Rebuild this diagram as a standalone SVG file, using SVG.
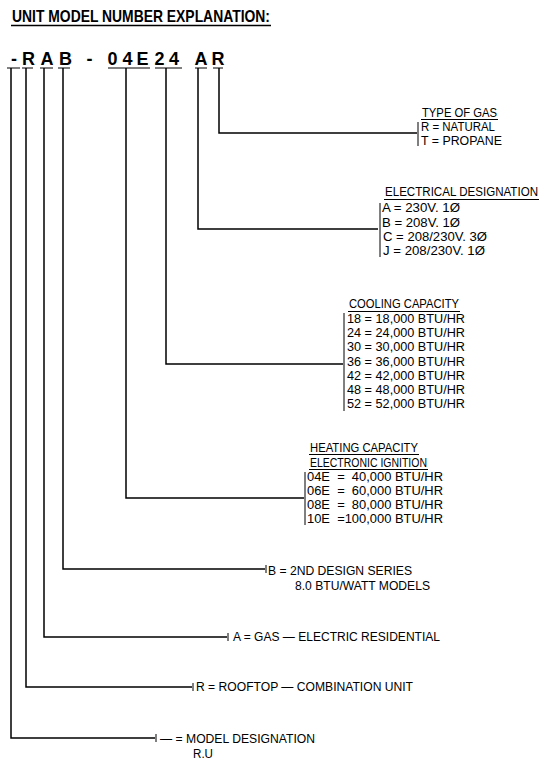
<svg xmlns="http://www.w3.org/2000/svg" width="544" height="768" viewBox="0 0 544 768">
<style>
.t{font-family:"Liberation Sans",Arial,sans-serif;font-size:12px;fill:#000}
.b{font-family:"Liberation Sans",Arial,sans-serif;font-weight:bold;fill:#000}
.c{font-family:"Liberation Sans",Arial,sans-serif;font-weight:bold;font-size:18px;fill:#000;text-anchor:middle}
.ln{stroke:#000;stroke-width:1.5;fill:none}
.thin{stroke:#000;stroke-width:1;fill:none}
</style>
<rect width="544" height="768" fill="#fff"/>
<g id="title">
<text class="b" x="12" y="22" font-size="17" textLength="258" lengthAdjust="spacingAndGlyphs">UNIT MODEL NUMBER EXPLANATION:</text>
<line class="ln" x1="11" y1="25.5" x2="271" y2="25.5"/>
</g>
<g id="model-code">
<text class="c" x="14" y="64.5">-</text>
<text class="c" x="28.5" y="64.5">R</text>
<text class="c" x="47" y="64.5">A</text>
<text class="c" x="65.5" y="64.5">B</text>
<text class="c" x="89.5" y="64.5">-</text>
<text class="c" x="112.5" y="64.5">0</text>
<text class="c" x="127.5" y="64.5">4</text>
<text class="c" x="142.5" y="64.5">E</text>
<text class="c" x="159.5" y="64.5">2</text>
<text class="c" x="174" y="64.5">4</text>
<text class="c" x="201" y="64.5">A</text>
<text class="c" x="218" y="64.5">R</text>
<path class="thin" d="M7 68H20M22 68H33M40 68H53M58 68H70M108 68H150M155 68H182M195 68H207M213 68H223"/>
</g>
<g id="connectors">
<path class="ln" d="M219 68V133H417"/>
<path class="ln" d="M198 68V229H378"/>
<path class="ln" d="M166 68V364H343"/>
<path class="ln" d="M126 68V498H304"/>
<path class="ln" d="M63 68V569H265"/>
<path class="ln" d="M44 68V637H227"/>
<path class="ln" d="M26 68V687H192"/>
<path class="ln" d="M11 68V738H155"/>
</g>
<g id="type-of-gas">
<line class="thin" x1="418" y1="122" x2="418" y2="146"/>
<text class="t" x="422" y="117" textLength="75" lengthAdjust="spacingAndGlyphs">TYPE OF GAS</text>
<line class="thin" x1="421" y1="119.5" x2="498" y2="119.5"/>
<text class="t" x="421" y="131" textLength="74" lengthAdjust="spacingAndGlyphs">R = NATURAL</text>
<text class="t" x="421" y="145" textLength="81" lengthAdjust="spacingAndGlyphs">T = PROPANE</text>
</g>
<g id="electrical-designation">
<line class="thin" x1="380" y1="203" x2="380" y2="257"/>
<text class="t" x="385" y="196" textLength="153" lengthAdjust="spacingAndGlyphs">ELECTRICAL DESIGNATION</text>
<line class="thin" x1="384" y1="199.5" x2="539" y2="199.5"/>
<text class="t" x="382" y="212" textLength="78" lengthAdjust="spacingAndGlyphs">A = 230V. 1Ø</text>
<text class="t" x="382" y="227" textLength="78" lengthAdjust="spacingAndGlyphs">B = 208V. 1Ø</text>
<text class="t" x="383" y="241" textLength="104" lengthAdjust="spacingAndGlyphs">C = 208/230V. 3Ø</text>
<text class="t" x="383" y="255" textLength="102" lengthAdjust="spacingAndGlyphs">J = 208/230V. 1Ø</text>
</g>
<g id="cooling-capacity">
<line class="thin" x1="344" y1="313" x2="344" y2="411"/>
<text class="t" x="349" y="308" textLength="110" lengthAdjust="spacingAndGlyphs">COOLING CAPACITY</text>
<line class="thin" x1="348" y1="311.5" x2="460" y2="311.5"/>
<text class="t" x="347" y="323" textLength="118" lengthAdjust="spacingAndGlyphs">18 = 18,000 BTU/HR</text>
<text class="t" x="347" y="337" textLength="118" lengthAdjust="spacingAndGlyphs">24 = 24,000 BTU/HR</text>
<text class="t" x="347" y="351" textLength="118" lengthAdjust="spacingAndGlyphs">30 = 30,000 BTU/HR</text>
<text class="t" x="347" y="366" textLength="118" lengthAdjust="spacingAndGlyphs">36 = 36,000 BTU/HR</text>
<text class="t" x="347" y="380" textLength="118" lengthAdjust="spacingAndGlyphs">42 = 42,000 BTU/HR</text>
<text class="t" x="347" y="394" textLength="118" lengthAdjust="spacingAndGlyphs">48 = 48,000 BTU/HR</text>
<text class="t" x="347" y="408" textLength="118" lengthAdjust="spacingAndGlyphs">52 = 52,000 BTU/HR</text>
</g>
<g id="heating-capacity">
<line class="thin" x1="305" y1="472" x2="305" y2="525"/>
<text class="t" x="310" y="452" textLength="108" lengthAdjust="spacingAndGlyphs">HEATING CAPACITY</text>
<line class="thin" x1="309" y1="454.5" x2="419" y2="454.5"/>
<text class="t" x="310" y="467" textLength="117" lengthAdjust="spacingAndGlyphs">ELECTRONIC IGNITION</text>
<line class="thin" x1="309" y1="469.5" x2="428" y2="469.5"/>
<text class="t" x="307" y="481" textLength="136" lengthAdjust="spacingAndGlyphs" xml:space="preserve">04E  =  40,000 BTU/HR</text>
<text class="t" x="307" y="495" textLength="136" lengthAdjust="spacingAndGlyphs" xml:space="preserve">06E  =  60,000 BTU/HR</text>
<text class="t" x="307" y="509" textLength="136" lengthAdjust="spacingAndGlyphs" xml:space="preserve">08E  =  80,000 BTU/HR</text>
<text class="t" x="307" y="523" textLength="136" lengthAdjust="spacingAndGlyphs" xml:space="preserve">10E  =100,000 BTU/HR</text>
</g>
<g id="design-series">
<line class="thin" x1="266" y1="565" x2="266" y2="573"/>
<text class="t" x="268" y="575" textLength="144" lengthAdjust="spacingAndGlyphs">B = 2ND DESIGN SERIES</text>
<text class="t" x="295" y="590" textLength="135" lengthAdjust="spacingAndGlyphs">8.0 BTU/WATT MODELS</text>
</g>
<g id="gas-electric">
<line class="thin" x1="228" y1="633" x2="228" y2="641"/>
<text class="t" x="233" y="641" textLength="207" lengthAdjust="spacingAndGlyphs">A = GAS — ELECTRIC RESIDENTIAL</text>
</g>
<g id="rooftop">
<line class="thin" x1="193" y1="683" x2="193" y2="691"/>
<text class="t" x="196" y="691" textLength="217" lengthAdjust="spacingAndGlyphs">R = ROOFTOP — COMBINATION UNIT</text>
</g>
<g id="model-designation">
<line class="thin" x1="156" y1="734" x2="156" y2="742"/>
<text class="t" x="160" y="743" textLength="155" lengthAdjust="spacingAndGlyphs">— = MODEL DESIGNATION</text>
<text class="t" x="193" y="758" textLength="20" lengthAdjust="spacingAndGlyphs">R.U</text>
</g>
</svg>
